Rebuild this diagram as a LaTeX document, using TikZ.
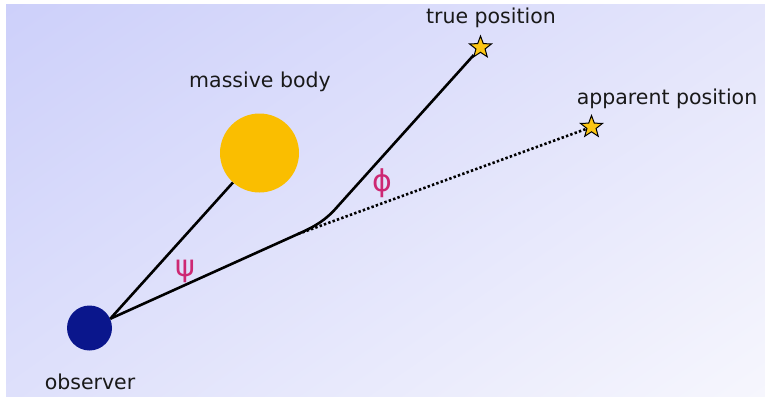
\documentclass[tikz,border=0pt]{standalone}
\usepackage{fontspec}
\setmainfont{DejaVu Sans}
\usetikzlibrary{shapes.geometric, shadings, positioning}

\definecolor{bgtl}{RGB}{205,208,250}
\definecolor{bgtr}{RGB}{228,229,251}
\definecolor{bgbl}{RGB}{222,224,251}
\definecolor{bgbr}{RGB}{246,246,253}
\definecolor{obsblue}{RGB}{10,22,140}
\definecolor{bodyyellow}{RGB}{250,190,0}
\definecolor{staryellow}{RGB}{252,198,20}
\definecolor{angle}{RGB}{205,40,115}

\begin{document}
\begin{tikzpicture}[x=1pt, y=-1pt,
  lbl/.style={anchor=base, font=\fontsize{20.5}{24}\selectfont, text=black!90},
  greek/.style={font=\fontsize{30}{34}\selectfont, text=angle},
  ray/.style={line width=2.6pt, line join=round},
  dots/.style={line width=2.6pt, dash pattern=on 2.4pt off 2.2pt},
  starnode/.style={star, star points=5, star point ratio=2.4, minimum size=23pt,
    inner sep=0pt, fill=staryellow, draw=black, line width=1pt}]
  \useasboundingbox (0,0) rectangle (765,396);
  \shade[upper left=bgtl, upper right=bgtr, lower left=bgbl, lower right=bgbr]
    (6,5) rectangle (765,396);

  % bodies
  \node[circle, fill=obsblue, minimum size=45pt, inner sep=0pt] (observer) at (89.5,328) {};
  \node[circle, fill=bodyyellow, minimum size=79pt, inner sep=0pt] (body) at (259.5,153) {};
  \node[starnode] (truestar) at (480.5,47.5) {};
  \node[starnode] (appstar) at (591.5,127) {};
  \coordinate (bend) at (298,234);

  % light paths
  \draw[ray] (observer.24) -- (body);
  \draw[dots] (bend) -- (appstar);
  \draw[ray] (observer.24) -- (bend) .. controls (316,226) and (326,220) .. (338,206) -- (truestar);

  % labels
  \node[lbl] (obslbl) at (90,389) {observer};
  \node[lbl] (bodylbl) at (260,88) {massive body};
  \node[lbl] (truelbl) at (491,24) {true position};
  \node[lbl] (applbl) at (667,104) {apparent position};
  \node[greek] (psi) at (185,271) {ψ};
  \node[greek] (phi) at (382,183) {ϕ};
\end{tikzpicture}
\end{document}
